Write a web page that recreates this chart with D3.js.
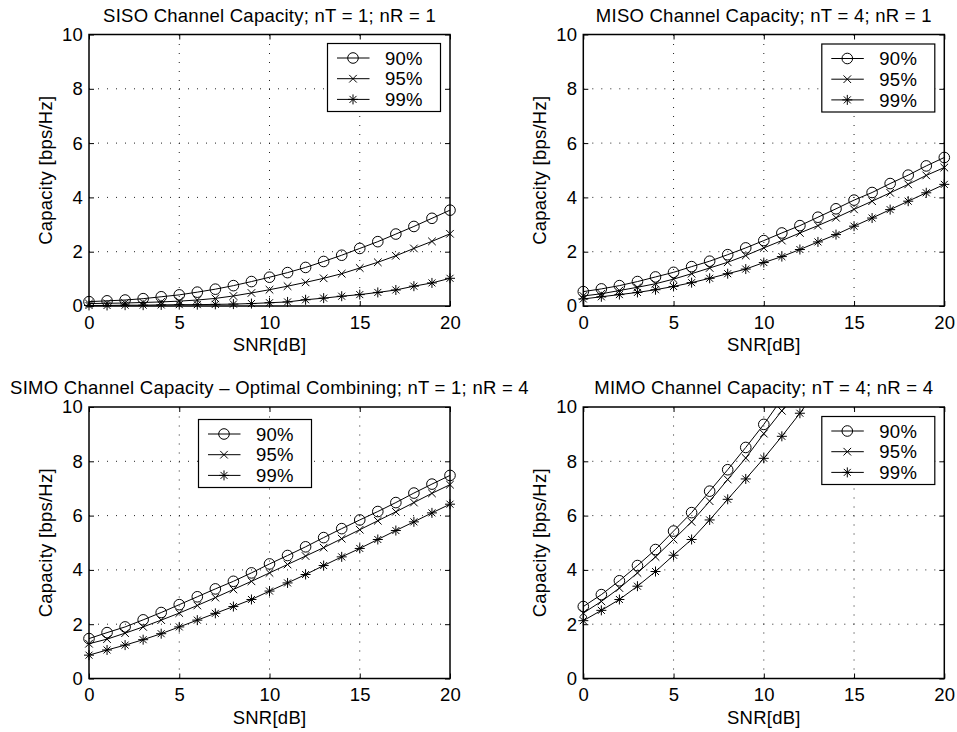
<!DOCTYPE html>
<html>
<head>
<meta charset="utf-8">
<script src="https://cdn.jsdelivr.net/npm/d3@7"></script>
<style>
  html, body { margin: 0; padding: 0; background: #fff; }
  svg { display: block; font-family: "Liberation Sans", Arial, Helvetica, sans-serif; letter-spacing: 0.25px; }
</style>
</head>
<body>
<svg id="fig" width="957" height="732"></svg>
<script>
// SNR grid (dB) shared by all four panels
const snrDb = [0, 1, 2, 3, 4, 5, 6, 7, 8, 9, 10, 11, 12, 13, 14, 15, 16, 17, 18, 19, 20];
const outageLabels = ["90%", "95%", "99%"];
const markerKinds = ["o", "x", "*"];
const xTickValues = [0, 5, 10, 15, 20];
const yTickValues = [0, 2, 4, 6, 8, 10];

// SISO, nT = 1, nR = 1
const sisoC90 = [0.16, 0.19, 0.22, 0.27, 0.34, 0.41, 0.51, 0.62, 0.75, 0.90, 1.06, 1.23, 1.42, 1.64, 1.87, 2.12, 2.37, 2.65, 2.93, 3.23, 3.53];
const sisoC95 = [0.09, 0.10, 0.11, 0.13, 0.15, 0.18, 0.22, 0.28, 0.37, 0.48, 0.60, 0.73, 0.87, 1.02, 1.19, 1.40, 1.61, 1.85, 2.12, 2.38, 2.66];
const sisoC99 = [0.02, 0.02, 0.03, 0.03, 0.04, 0.05, 0.05, 0.06, 0.07, 0.09, 0.12, 0.15, 0.23, 0.29, 0.36, 0.42, 0.50, 0.59, 0.73, 0.85, 1.02];

// MISO, nT = 4, nR = 1
const misoC90 = [0.53, 0.63, 0.75, 0.90, 1.07, 1.24, 1.45, 1.65, 1.89, 2.14, 2.41, 2.69, 2.96, 3.27, 3.58, 3.90, 4.18, 4.51, 4.82, 5.16, 5.47];
const misoC95 = [0.37, 0.45, 0.57, 0.69, 0.82, 0.99, 1.19, 1.40, 1.61, 1.86, 2.14, 2.41, 2.69, 2.96, 3.25, 3.56, 3.86, 4.17, 4.48, 4.81, 5.10];
const misoC99 = [0.26, 0.34, 0.42, 0.50, 0.60, 0.72, 0.86, 1.02, 1.19, 1.36, 1.60, 1.82, 2.08, 2.36, 2.63, 2.94, 3.24, 3.55, 3.86, 4.17, 4.48];

// SIMO with optimal combining, nT = 1, nR = 4
const simoC90 = [1.47, 1.69, 1.90, 2.16, 2.43, 2.72, 3.01, 3.30, 3.58, 3.89, 4.22, 4.53, 4.85, 5.19, 5.52, 5.84, 6.15, 6.48, 6.83, 7.16, 7.48];
const simoC95 = [1.28, 1.45, 1.67, 1.90, 2.15, 2.41, 2.69, 2.98, 3.28, 3.58, 3.89, 4.20, 4.51, 4.82, 5.15, 5.48, 5.81, 6.14, 6.48, 6.82, 7.14];
const simoC99 = [0.86, 1.05, 1.23, 1.43, 1.65, 1.90, 2.15, 2.40, 2.65, 2.91, 3.22, 3.52, 3.83, 4.16, 4.48, 4.79, 5.12, 5.45, 5.77, 6.10, 6.42];

// MIMO, nT = 4, nR = 4 (curves leave the 0..10 range early)
const mimoC90 = [2.65, 3.09, 3.60, 4.16, 4.75, 5.43, 6.11, 6.90, 7.69, 8.51, 9.36, 10.30];
const mimoC95 = [2.41, 2.84, 3.33, 3.89, 4.48, 5.12, 5.77, 6.53, 7.33, 8.12, 9.02, 9.86, 10.70];
const mimoC99 = [2.13, 2.51, 2.91, 3.40, 3.94, 4.54, 5.12, 5.84, 6.60, 7.35, 8.11, 8.92, 9.77, 10.70];

const panelTitles = [
  "SISO Channel Capacity; nT = 1; nR = 1",
  "MISO Channel Capacity; nT = 4; nR = 1",
  "SIMO Channel Capacity \u2013 Optimal Combining; nT = 1; nR = 4",
  "MIMO Channel Capacity; nT = 4; nR = 4"
];
const xLabel = "SNR[dB]";
const yLabel = "Capacity [bps/Hz]";

// ---- layout ----
const FONT = 18.5;
const PW = 361, PH = 271.5;
const panels = [
  { title: panelTitles[0], left: 89,    top: 34.5,  series: [sisoC90, sisoC95, sisoC99], legend: { x: 327.5, y: 43.5 } },
  { title: panelTitles[1], left: 583.3, top: 34.5,  series: [misoC90, misoC95, misoC99], legend: { x: 821.8, y: 44 } },
  { title: panelTitles[2], left: 89,    top: 407,   series: [simoC90, simoC95, simoC99], legend: { x: 198.5, y: 419.5 } },
  { title: panelTitles[3], left: 583.3, top: 407,   series: [mimoC90, mimoC95, mimoC99], legend: { x: 821.8, y: 416.5 } }
];
const LEG_W = 113, LEG_H = 68;

const svg = d3.select("#fig");

function markerPath(kind) {
  if (kind === "x") return "M-3.8,-3.8L3.8,3.8M-3.8,3.8L3.8,-3.8";
  if (kind === "*") return "M0,-5V5M-5,0H5M-3.5,-3.5L3.5,3.5M-3.5,3.5L3.5,-3.5";
  return null;
}

function drawMarker(g, kind, cx, cy) {
  if (kind === "o") {
    g.append("circle").attr("cx", cx).attr("cy", cy).attr("r", 5.3)
      .attr("fill", "none").attr("stroke", "#000").attr("stroke-width", 1);
  } else {
    g.append("path").attr("d", markerPath(kind))
      .attr("transform", `translate(${cx},${cy})`)
      .attr("fill", "none").attr("stroke", "#000").attr("stroke-width", 1);
  }
}

panels.forEach((p, pi) => {
  const g = svg.append("g").attr("transform", `translate(${p.left},${p.top})`);
  const x = d3.scaleLinear().domain([0, 20]).range([0, PW]);
  const y = d3.scaleLinear().domain([0, 10]).range([PH, 0]);

  const clipId = "clip" + pi;
  g.append("clipPath").attr("id", clipId)
    .append("rect").attr("x", 0).attr("y", 0).attr("width", PW).attr("height", PH);

  g.append("rect").attr("width", PW).attr("height", PH).attr("fill", "#fff");

  // dotted grid
  const grid = g.append("g").attr("stroke", "#222").attr("stroke-width", 1)
    .attr("stroke-dasharray", "1,8");
  grid.selectAll("line.gx").data(xTickValues.slice(1, -1)).join("line")
    .attr("x1", d => x(d)).attr("x2", d => x(d)).attr("y1", PH).attr("y2", 0);
  grid.selectAll("line.gy").data(yTickValues.slice(1, -1)).join("line")
    .attr("x1", 0).attr("x2", PW).attr("y1", d => y(d)).attr("y2", d => y(d));

  // axes with inward ticks
  const styleAxis = a => {
    a.attr("font-size", FONT).attr("font-family", null);
    a.select(".domain").remove();
    a.selectAll(".tick line").attr("stroke", "#000");
    a.selectAll(".tick text").attr("fill", "#000");
  };
  g.append("g").attr("transform", `translate(0,${PH})`)
    .call(d3.axisBottom(x).tickValues(xTickValues).tickSize(-5).tickPadding(9.5).tickFormat(d3.format("d")))
    .call(styleAxis);
  g.append("g")
    .call(d3.axisLeft(y).tickValues(yTickValues).tickSize(-5).tickPadding(6).tickFormat(d3.format("d")))
    .call(styleAxis);
  g.append("g")
    .call(d3.axisTop(x).tickValues(xTickValues).tickSize(-5).tickFormat(""))
    .call(styleAxis);
  g.append("g").attr("transform", `translate(${PW},0)`)
    .call(d3.axisRight(y).tickValues(yTickValues).tickSize(-5).tickFormat(""))
    .call(styleAxis);

  // series lines and markers
  const line = d3.line().x((v, i) => x(snrDb[i])).y(v => y(v));
  p.series.forEach((vals, si) => {
    g.append("path").datum(vals).attr("d", line)
      .attr("clip-path", `url(#${clipId})`)
      .attr("fill", "none").attr("stroke", "#000").attr("stroke-width", 1);
    const mg = g.append("g");
    vals.forEach((v, i) => {
      if (v <= 10) drawMarker(mg, markerKinds[si], x(snrDb[i]), y(v));
    });
  });

  // axes box
  g.append("rect").attr("width", PW).attr("height", PH)
    .attr("fill", "none").attr("stroke", "#000").attr("stroke-width", 1.5);

  // labels and title
  g.append("text").attr("x", PW / 2).attr("y", PH + 45).attr("text-anchor", "middle")
    .attr("font-size", FONT).text(xLabel);
  g.append("text").attr("transform", `translate(-37,${PH / 2}) rotate(-90)`)
    .attr("text-anchor", "middle").attr("font-size", FONT).text(yLabel);
  g.append("text").attr("x", PW / 2).attr("y", -12.8).attr("text-anchor", "middle")
    .attr("font-size", FONT).text(p.title);

  // legend
  const lg = svg.append("g").attr("transform", `translate(${p.legend.x},${p.legend.y})`);
  lg.append("rect").attr("width", LEG_W).attr("height", LEG_H)
    .attr("fill", "#fff").attr("stroke", "#000").attr("stroke-width", 1.2);
  outageLabels.forEach((lab, si) => {
    const ry = 14.5 + si * 20.7;
    lg.append("line").attr("x1", 9.5).attr("x2", 42).attr("y1", ry).attr("y2", ry)
      .attr("stroke", "#000").attr("stroke-width", 1);
    drawMarker(lg, markerKinds[si], 25.5, ry);
    lg.append("text").attr("x", 57.5).attr("y", ry).attr("dy", "0.36em")
      .attr("font-size", FONT).text(lab);
  });
});
</script>
</body>
</html>
